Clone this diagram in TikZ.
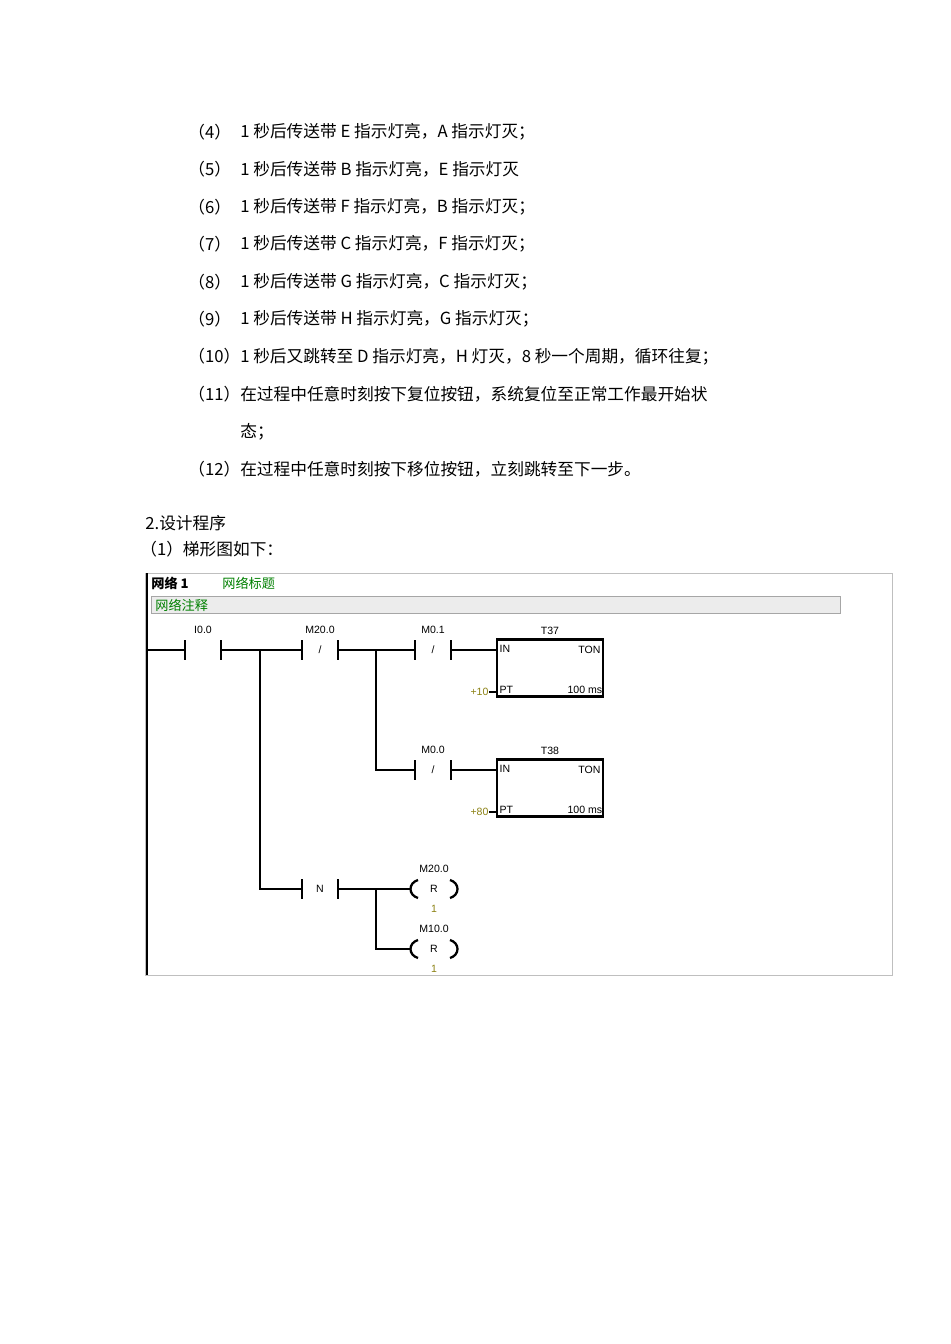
\documentclass[tikz,border=0pt]{standalone}
\usepackage{fontspec}
\setmainfont{Liberation Serif}
\newfontfamily\cjk{Noto Sans CJK SC}
\newfontfamily\lad{Liberation Sans}
\begin{document}
\begin{tikzpicture}[x=0.02cm,y=-0.02cm,
  txt/.style={anchor=west,inner sep=0,font=\cjk\fontsize{9.5}{11}\selectfont},
  lt/.style={inner sep=0,font=\lad\fontsize{6}{7}\selectfont},
  olive/.style={text={rgb,255:red,140;green,130;blue,20}},
  wire/.style={line width=1.2pt},
  box/.style={draw,line width=1.4pt,minimum width=2.12cm,minimum height=1.14cm,inner sep=0}]
\useasboundingbox[fill=white] (0,0) rectangle (950,1344);
% text lines
\foreach \y/\l/\t in {132/（4）/1 秒后传送带 E 指示灯亮，A 指示灯灭；,
169/（5）/1 秒后传送带 B 指示灯亮，E 指示灯灭,
207/（6）/1 秒后传送带 F 指示灯亮，B 指示灯灭；,
244/（7）/1 秒后传送带 C 指示灯亮，F 指示灯灭；,
282/（8）/1 秒后传送带 G 指示灯亮，C 指示灯灭；,
319/（9）/1 秒后传送带 H 指示灯亮，G 指示灯灭；}
{\node[txt] at (188,\y) {\l}; \node[txt] at (240,\y) {\t};}
\node[txt] at (188,357) {（10）1 秒后又跳转至 D 指示灯亮，H 灯灭，8 秒一个周期，循环往复；};
\node[txt] at (188,394) {（11）在过程中任意时刻按下复位按钮，系统复位至正常工作最开始状};
\node[txt] at (240,432) {态；};
\node[txt] at (188,469) {（12）在过程中任意时刻按下移位按钮，立刻跳转至下一步。};
\node[txt] at (145,523) {2.设计程序};
\node[txt] at (140,549) {（1）梯形图如下：};
% frame
\draw[gray!50] (145,573) rectangle (892,975);
\draw[line width=1.5pt] (147,573) -- (147,975);
\node[lt,anchor=west,font=\cjk\bfseries\fontsize{7.5}{8}\selectfont] at (151,583) {网络 1};
\node[lt,anchor=west,font=\cjk\fontsize{7.5}{8}\selectfont,text=green!50!black] at (222,583) {网络标题};
\draw[gray!70,fill=gray!15] (151,596) rectangle (840,613);
\node[lt,anchor=west,font=\cjk\fontsize{7.5}{8}\selectfont,text=green!50!black] at (155,605) {网络注释};
% contacts
\coordinate (L) at (147,650);
\foreach \n/\x/\y/\lab/\mid in {c1/185/650/I0.0/{}, c2/302/650/M20.0/{/}, c3/415/650/M0.1/{/}, c4/415/770/M0.0/{/}, c5/302/889/{}/N}{
  \coordinate (\n a) at (\x,\y); \coordinate (\n b) at (\x+36,\y);
  \draw[line width=1.3pt] (\x,\y-10) -- (\x,\y+10) (\x+36,\y-10) -- (\x+36,\y+10);
  \node[lt] (\n m) at (\x+18,\y) {\mid};
  \node[lt] (\n l) at (\x+18,\y-20) {\lab};
}
% boxes
\node[box] (t37) at (550,668) {}; \node[box] (t38) at (550,788) {};
\foreach \b/\t/\p in {t37/T37/+10, t38/T38/+80}{
  \node[lt,anchor=south] at (\b.north) [yshift=2pt] {\t};
  \node[lt,anchor=north west] at ([shift={(2pt,-4pt)}]\b.north west) {IN};
  \node[lt,anchor=north east] at ([shift={(-2pt,-4pt)}]\b.north east) {TON};
  \node[lt,anchor=south west] at ([shift={(2pt,2pt)}]\b.south west) {PT};
  \node[lt,anchor=south east] at ([shift={(-1pt,2pt)}]\b.south east) {100 ms};
  \coordinate (\b pt) at ([yshift=3.3pt]\b.south west);
  \node[lt,olive,anchor=east] (\b p) at ([xshift=-4pt]\b pt) {\p};
  \draw[wire] (\b p.east) -- (\b pt);
}
% coils
\foreach \n/\y/\lab in {k1/889/M20.0, k2/949/M10.0}{
  \coordinate (\n a) at (410,\y);
  \draw[line width=1.3pt] (418,\y-9) .. controls (408,\y-6) and (408,\y+6) .. (418,\y+9);
  \draw[line width=1.3pt] (450,\y-9) .. controls (460,\y-6) and (460,\y+6) .. (450,\y+9);
  \node[lt] at (434,\y) {R};
  \node[lt] at (434,\y-20) {\lab};
  \node[lt,olive] at (434,\y+20) {1};
}
% wires
\coordinate (j1) at (260,650); \coordinate (j2) at (376,650);
\coordinate (j3) at (376,889);
\draw[wire] (L) -- (c1a) (c1b) -- (c2a) (c2b) -- (c3a) (c3b) -- (t37.west |- c3b);
\draw[wire] (j1) |- (c5a) (c5b) -- (k1a);
\draw[wire] (j2) |- (c4a) (c4b) -- (t38.west |- c4b);
\draw[wire] (j3) |- (k2a);
\end{tikzpicture}
\end{document}
